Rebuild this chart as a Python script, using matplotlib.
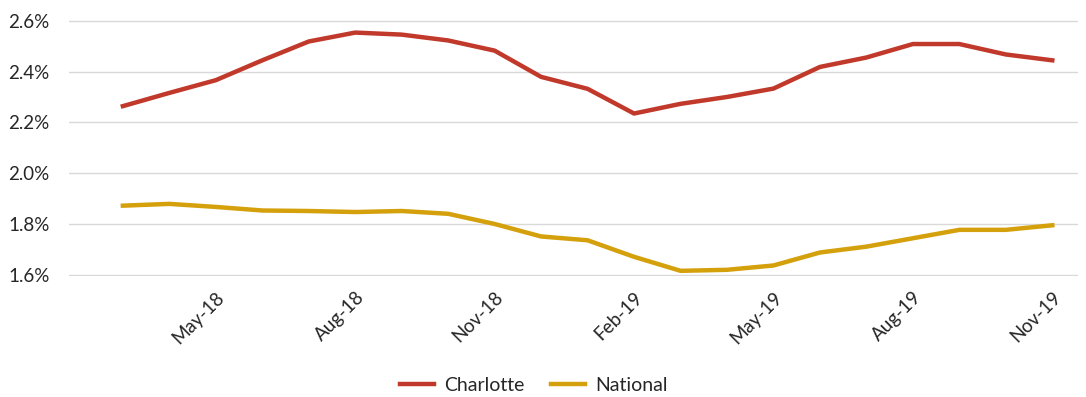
import matplotlib
matplotlib.use("Agg")
import matplotlib.pyplot as plt
from matplotlib.ticker import FuncFormatter

plt.rcParams['font.family'] = ['Lato', 'DejaVu Sans']

# monthly data, Mar-18 .. Nov-19
months = ["Mar-18", "Apr-18", "May-18", "Jun-18", "Jul-18", "Aug-18", "Sep-18",
          "Oct-18", "Nov-18", "Dec-18", "Jan-19", "Feb-19", "Mar-19", "Apr-19",
          "May-19", "Jun-19", "Jul-19", "Aug-19", "Sep-19", "Oct-19", "Nov-19"]
charlotte = [2.264, 2.316, 2.366, 2.444, 2.518, 2.553, 2.545, 2.522, 2.482, 2.379,
             2.332, 2.235, 2.273, 2.300, 2.333, 2.418, 2.455, 2.508, 2.508, 2.467, 2.444]
national = [1.873, 1.880, 1.868, 1.854, 1.852, 1.848, 1.852, 1.841, 1.801, 1.752,
            1.737, 1.672, 1.617, 1.621, 1.638, 1.689, 1.712, 1.745, 1.778, 1.778, 1.796]

red = "#C0392B"
gold = "#D4A00C"
txt = "#262626"

fig = plt.figure(figsize=(10.86, 3.97), dpi=100)
ax = fig.add_axes([0.0635, 0.305, 0.929, 0.645])

x = list(range(len(months)))
ax.plot(x, charlotte, color=red, lw=3.2, label="Charlotte", solid_joinstyle="round")
ax.plot(x, national, color=gold, lw=3.2, label="National", solid_joinstyle="round")

ax.set_xlim(-1.16, 20.55)
ax.set_ylim(1.597, 2.603)
ax.set_yticks([1.6, 1.8, 2.0, 2.2, 2.4, 2.6])
ax.yaxis.set_major_formatter(FuncFormatter(lambda v, p: f"{v:.1f}%"))
ax.grid(axis="y", color="#D9D9D9", lw=1)
ax.set_axisbelow(True)
for s in ax.spines.values():
    s.set_visible(False)

tick_idx = list(range(2, len(months), 3))
ax.set_xticks(tick_idx)
ax.set_xticklabels([months[i] for i in tick_idx], rotation=45, ha="right",
                   rotation_mode="anchor")
ax.tick_params(axis="both", length=0, labelsize=13.5, colors=txt)
ax.tick_params(axis="x", pad=9)
ax.tick_params(axis="y", pad=14)

leg = fig.legend(loc="lower center", bbox_to_anchor=(0.4915, -0.037), ncol=2,
                 frameon=False, fontsize=14, handlelength=1.75, columnspacing=1.4,
                 handletextpad=0.5)
for t in leg.get_texts():
    t.set_color(txt)

fig.savefig("out.png", dpi=100)
